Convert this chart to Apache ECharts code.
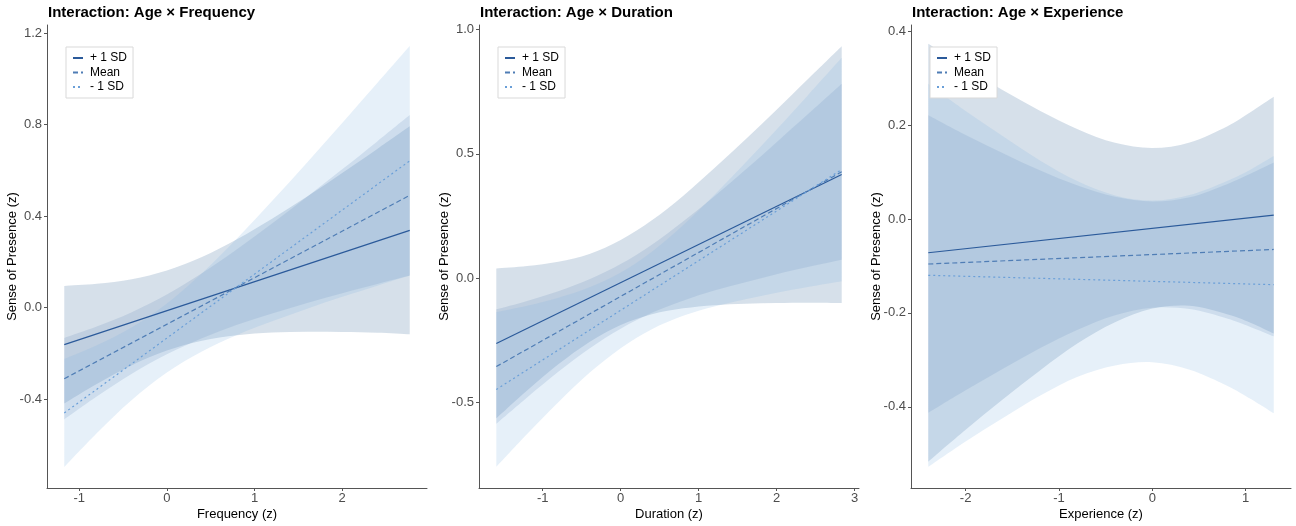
<!DOCTYPE html>
<html>
<head>
<meta charset="utf-8">
<script src="https://cdn.jsdelivr.net/npm/echarts@6/dist/echarts.min.js"></script>
<style>
html,body{margin:0;padding:0;background:#fff;}
#chart{width:1296px;height:526px;}
</style>
</head>
<body>
<div id="chart"></div>
<script>
// ---------- DATA ----------
const titles = ['Interaction: Age \u00d7 Frequency', 'Interaction: Age \u00d7 Duration', 'Interaction: Age \u00d7 Experience'];
const xNames = ['Frequency (z)', 'Duration (z)', 'Experience (z)'];
const yName = 'Sense of Presence (z)';
const groupNames = ['+ 1 SD', 'Mean', '- 1 SD'];

// Panel 1: Frequency
const freqX = [-1.17, -0.8, -0.4, 0, 0.4, 0.8, 1.2, 1.6, 2.0, 2.4, 2.77];
const freqPlusLo = [-0.419, -0.334, -0.252, -0.188, -0.145, -0.121, -0.109, -0.106, -0.107, -0.110, -0.117];
const freqPlusHi = [0.095, 0.104, 0.124, 0.162, 0.221, 0.299, 0.389, 0.486, 0.589, 0.694, 0.793];
const freqMeanLo = [-0.489, -0.389, -0.289, -0.204, -0.134, -0.075, -0.026, 0.020, 0.063, 0.103, 0.140];
const freqMeanHi = [-0.133, -0.083, -0.020, 0.057, 0.150, 0.255, 0.368, 0.485, 0.605, 0.727, 0.842];
const freqMinusLo = [-0.697, -0.549, -0.404, -0.284, -0.192, -0.120, -0.060, -0.005, 0.047, 0.096, 0.140];
const freqMinusHi = [-0.225, -0.165, -0.086, 0.018, 0.150, 0.302, 0.466, 0.635, 0.807, 0.982, 1.144];
const freqLineX = [-1.17, 2.77];
const freqPlusLine = [-0.162, 0.338];
const freqMeanLine = [-0.311, 0.491];
const freqMinusLine = [-0.461, 0.642];

// Panel 2: Duration
const durX = [-1.595, -1.2, -0.8, -0.4, 0, 0.4, 0.8, 1.2, 1.6, 2.0, 2.4, 2.835];
const durPlusLo = [-0.563, -0.451, -0.346, -0.256, -0.188, -0.145, -0.121, -0.108, -0.102, -0.099, -0.098, -0.099];
const durPlusHi = [0.039, 0.049, 0.066, 0.098, 0.154, 0.233, 0.331, 0.442, 0.558, 0.677, 0.800, 0.933];
const durMeanLo = [-0.585, -0.479, -0.376, -0.282, -0.203, -0.139, -0.090, -0.049, -0.016, 0.016, 0.045, 0.074];
const durMeanHi = [-0.125, -0.091, -0.052, -0.004, 0.057, 0.135, 0.228, 0.329, 0.436, 0.547, 0.659, 0.782];
const durMinusLo = [-0.758, -0.626, -0.498, -0.380, -0.281, -0.205, -0.151, -0.113, -0.084, -0.058, -0.035, -0.012];
const durMinusHi = [-0.136, -0.110, -0.078, -0.036, 0.023, 0.107, 0.213, 0.335, 0.464, 0.598, 0.735, 0.886];
const durLineX = [-1.595, 2.835];
const durPlusLine = [-0.262, 0.417];
const durMeanLine = [-0.355, 0.428];
const durMinusLine = [-0.447, 0.437];

// Panel 3: Experience
const expX = [-2.4, -2.0, -1.6, -1.2, -0.8, -0.4, 0, 0.4, 0.8, 1.05, 1.3];
const expPlusLo = [-0.517, -0.449, -0.384, -0.322, -0.265, -0.220, -0.191, -0.185, -0.203, -0.221, -0.244];
const expPlusHi = [0.373, 0.323, 0.274, 0.230, 0.191, 0.162, 0.151, 0.163, 0.197, 0.227, 0.260];
const expMeanLo = [-0.413, -0.365, -0.319, -0.275, -0.236, -0.205, -0.189, -0.192, -0.212, -0.230, -0.250];
const expMeanHi = [0.221, 0.179, 0.140, 0.103, 0.071, 0.047, 0.037, 0.046, 0.074, 0.096, 0.120];
const expMinusLo = [-0.528, -0.474, -0.424, -0.376, -0.336, -0.312, -0.305, -0.321, -0.355, -0.383, -0.414];
const expMinusHi = [0.288, 0.230, 0.176, 0.124, 0.080, 0.050, 0.039, 0.051, 0.081, 0.105, 0.134];
const expLineX = [-2.4, 1.3];
const expPlusLine = [-0.072, 0.008];
const expMeanLine = [-0.096, -0.065];
const expMinusLine = [-0.120, -0.140];

// Axis ticks
const xTicks = [[-1, 0, 1, 2], [-1, 0, 1, 2, 3], [-2, -1, 0, 1]];
const yTicks = [[-0.4, 0.0, 0.4, 0.8, 1.2], [-0.5, 0.0, 0.5, 1.0], [-0.4, -0.2, 0.0, 0.2, 0.4]];

// ---------- STYLE / LAYOUT ----------
const FONT = 'Liberation Sans, Arial, sans-serif';
const xRange = [[-1.367, 2.967], [-1.817, 3.057], [-2.585, 1.485]];
const yRange = [[-0.789, 1.236], [-0.843, 1.018], [-0.573, 0.413]];
const gridLeft = [47, 479, 911];
const ribbonFill = ['rgba(50,100,150,0.2)', 'rgba(105,140,184,0.2)', 'rgba(130,180,225,0.2)'];
const lineColor = ['#2b5a9a', '#4f7db5', '#6a9fd8'];
const lineType = ['solid', [5, 3], [2, 3]];

const panels = [
  {x: freqX, lo: [freqPlusLo, freqMeanLo, freqMinusLo], hi: [freqPlusHi, freqMeanHi, freqMinusHi],
   lx: freqLineX, ly: [freqPlusLine, freqMeanLine, freqMinusLine]},
  {x: durX, lo: [durPlusLo, durMeanLo, durMinusLo], hi: [durPlusHi, durMeanHi, durMinusHi],
   lx: durLineX, ly: [durPlusLine, durMeanLine, durMinusLine]},
  {x: expX, lo: [expPlusLo, expMeanLo, expMinusLo], hi: [expPlusHi, expMeanHi, expMinusHi],
   lx: expLineX, ly: [expPlusLine, expMeanLine, expMinusLine]}
];

// smooth (Catmull-Rom) pixel path through already-projected points
function crSegment(pts, move) {
  let d = (move ? 'M' : 'L') + pts[0][0] + ',' + pts[0][1];
  for (let i = 0; i < pts.length - 1; i++) {
    const p0 = pts[i - 1] || pts[i], p1 = pts[i], p2 = pts[i + 1], p3 = pts[i + 2] || pts[i + 1];
    const c1x = p1[0] + (p2[0] - p0[0]) / 6, c1y = p1[1] + (p2[1] - p0[1]) / 6;
    const c2x = p2[0] - (p3[0] - p1[0]) / 6, c2y = p2[1] - (p3[1] - p1[1]) / 6;
    d += 'C' + c1x + ',' + c1y + ' ' + c2x + ',' + c2y + ' ' + p2[0] + ',' + p2[1];
  }
  return d;
}

const grid = [], xAxis = [], yAxis = [], title = [], legend = [], series = [];

panels.forEach((p, gi) => {
  grid.push({left: gridLeft[gi], top: 25, width: 380, height: 464});
  title.push({text: titles[gi], left: gridLeft[gi] + 1, top: 5, padding: 0,
    textStyle: {fontFamily: FONT, fontSize: 15, fontWeight: 'bold', color: '#000'}});
  xAxis.push({
    type: 'value', gridIndex: gi, min: xRange[gi][0], max: xRange[gi][1],
    name: xNames[gi], nameLocation: 'middle', nameGap: 20, nameMoveOverlap: false,
    nameTextStyle: {fontFamily: FONT, fontSize: 13, color: '#000'},
    axisLine: {show: true, onZero: false, lineStyle: {color: '#555', width: 1}},
    axisTick: {show: true, length: 3, customValues: xTicks[gi], lineStyle: {color: '#555'}},
    axisLabel: {customValues: xTicks[gi], margin: 4, fontFamily: FONT, fontSize: 13, color: '#4d4d4d',
      formatter: v => String(Math.round(v))},
    splitLine: {show: false}
  });
  yAxis.push({
    type: 'value', gridIndex: gi, min: yRange[gi][0], max: yRange[gi][1],
    name: yName, nameLocation: 'middle', nameGap: 28, nameMoveOverlap: false,
    nameTextStyle: {fontFamily: FONT, fontSize: 13, color: '#000'},
    axisLine: {show: true, onZero: false, lineStyle: {color: '#555', width: 1}},
    axisTick: {show: true, length: 3, customValues: yTicks[gi], lineStyle: {color: '#555'}},
    axisLabel: {customValues: yTicks[gi], margin: 5, fontFamily: FONT, fontSize: 13, color: '#4d4d4d',
      formatter: v => v.toFixed(1)},
    splitLine: {show: false}
  });
  legend.push({
    data: groupNames, orient: 'vertical', left: gridLeft[gi] + 19, top: 47,
    backgroundColor: '#fff', borderColor: '#d9d9d9', borderWidth: 1, borderRadius: 0,
    padding: [5, 6, 5, 6], itemGap: 2.5, itemWidth: 10, itemHeight: 12,
    itemStyle: {opacity: 0},
    textStyle: {fontFamily: FONT, fontSize: 12, color: '#000', padding: [0, 0, 0, 2]},
    selectedMode: false, inactiveColor: '#000'
  });
  // ribbons
  [0, 1, 2].forEach(k => {
    const xs = p.x, lo = p.lo[k], hi = p.hi[k];
    series.push({
      type: 'custom', name: 'ribbon' + gi + '_' + k, xAxisIndex: gi, yAxisIndex: gi,
      silent: true, z: 1,
      data: xs.map((x, i) => [x, lo[i], hi[i]]),
      encode: {x: 0, y: [1, 2]},
      renderItem: function (params, api) {
        if (params.dataIndex !== 0) return null;
        const up = xs.map((x, i) => api.coord([x, hi[i]]));
        const dn = xs.map((x, i) => api.coord([x, lo[i]])).reverse();
        const d = crSegment(up, true) + crSegment(dn, false) + 'Z';
        return {type: 'path', shape: {pathData: d}, style: {fill: ribbonFill[k], stroke: null}};
      }
    });
  });
  // lines
  [0, 1, 2].forEach(k => {
    series.push({
      type: 'line', name: groupNames[k], xAxisIndex: gi, yAxisIndex: gi,
      data: p.lx.map((x, i) => [x, p.ly[k][i]]),
      symbol: 'none', silent: true, z: 3,
      itemStyle: {color: lineColor[k]},
      lineStyle: {color: lineColor[k], width: 1.2, type: lineType[k]}
    });
  });
});

const chart = echarts.init(document.getElementById('chart'), null, {renderer: 'canvas'});
chart.setOption({
  animation: false,
  backgroundColor: '#fff',
  textStyle: {fontFamily: FONT},
  title, grid, xAxis, yAxis, legend, series
});
</script>
</body>
</html>
